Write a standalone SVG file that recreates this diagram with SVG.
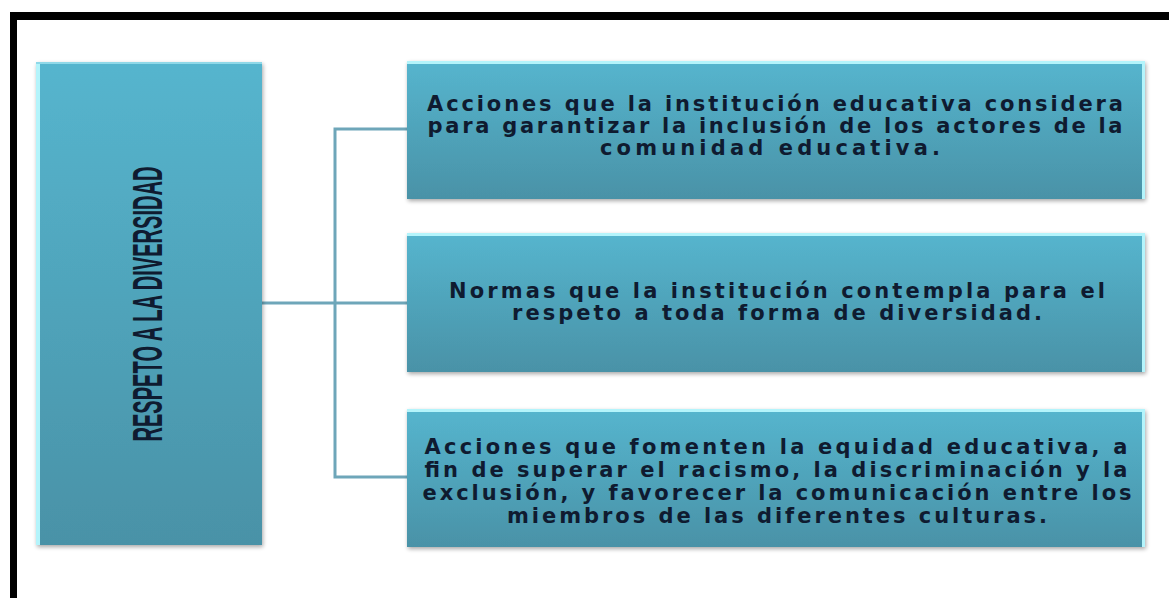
<svg xmlns="http://www.w3.org/2000/svg" width="1169" height="598" viewBox="0 0 1169 598">
  <defs>
    <linearGradient id="boxGrad" x1="0" y1="0" x2="0" y2="1">
      <stop offset="0" stop-color="#55b5ce"/>
      <stop offset="1" stop-color="#4a92a7"/>
    </linearGradient>
    <filter id="shadow" x="-5%" y="-5%" width="110%" height="115%">
      <feGaussianBlur in="SourceAlpha" stdDeviation="2"/>
      <feOffset dx="1" dy="2" result="b"/>
      <feComponentTransfer><feFuncA type="linear" slope="0.35"/></feComponentTransfer>
      <feMerge><feMergeNode/><feMergeNode in="SourceGraphic"/></feMerge>
    </filter>
    <style>
      .box { fill: url(#boxGrad); filter: url(#shadow); }
      .hl { fill: #b4f4fb; }
      .conn { stroke: #6ea6b9; stroke-width: 3; fill: none; }
      .txt { font-family: "DejaVu Sans", "Open Sans", sans-serif; font-weight: bold; font-size: 21px; fill: #0f1b30; text-anchor: middle; }
      .vtxt { font-family: "Liberation Sans", Arial, sans-serif; font-weight: bold; font-size: 42px; fill: #0f1b30; text-anchor: middle; }
    </style>
  </defs>
  <rect width="1169" height="598" fill="#ffffff"/>
  <g id="frame">
    <rect x="10" y="12" width="1159" height="8" fill="#000000"/>
    <rect x="10" y="12" width="7" height="586" fill="#000000"/>
  </g>
  <g id="connectors">
    <line class="conn" x1="262" y1="303" x2="407" y2="303"/>
    <polyline class="conn" points="407,129 335,129 335,477 407,477"/>
  </g>
  <g id="node-main">
    <rect class="box" x="36" y="62" width="226" height="483"/>
    <rect class="hl" x="36" y="62" width="4" height="483"/>
    <rect x="36" y="62" width="226" height="2" fill="#8fd8e8"/>
    <text class="vtxt" transform="translate(162,304) rotate(-90) scale(0.478,1)">RESPETO A LA DIVERSIDAD</text>
  </g>
  <g id="node-1">
    <rect class="box" x="407" y="61" width="738" height="138"/>
    <rect class="hl" x="407" y="61" width="738" height="3"/>
    <rect class="hl" x="1142" y="61" width="3" height="138"/>
    <text class="txt" x="775" y="111" textLength="696" lengthAdjust="spacing">Acciones que la institución educativa considera</text>
    <text class="txt" x="775" y="133" textLength="695" lengthAdjust="spacing">para garantizar la inclusión de los actores de la</text>
    <text class="txt" x="770" y="155" textLength="340" lengthAdjust="spacing">comunidad educativa.</text>
  </g>
  <g id="node-2">
    <rect class="box" x="407" y="233" width="738" height="139"/>
    <rect class="hl" x="407" y="233" width="738" height="3"/>
    <rect class="hl" x="1142" y="233" width="3" height="139"/>
    <text class="txt" x="777" y="298" textLength="656" lengthAdjust="spacing">Normas que la institución contempla para el</text>
    <text class="txt" x="777" y="320" textLength="530" lengthAdjust="spacing">respeto a toda forma de diversidad.</text>
  </g>
  <g id="node-3">
    <rect class="box" x="407" y="409" width="738" height="138"/>
    <rect class="hl" x="407" y="409" width="738" height="3"/>
    <rect class="hl" x="1142" y="409" width="3" height="138"/>
    <text class="txt" x="776" y="454" textLength="703" lengthAdjust="spacing">Acciones que fomenten la equidad educativa, a</text>
    <text class="txt" x="776" y="477" textLength="703" lengthAdjust="spacing">fin de superar el racismo,  la discriminación y la</text>
    <text class="txt" x="777" y="500" textLength="709" lengthAdjust="spacing">exclusión, y favorecer la comunicación entre los</text>
    <text class="txt" x="777" y="523" textLength="540" lengthAdjust="spacing">miembros de las diferentes culturas.</text>
  </g>
</svg>
